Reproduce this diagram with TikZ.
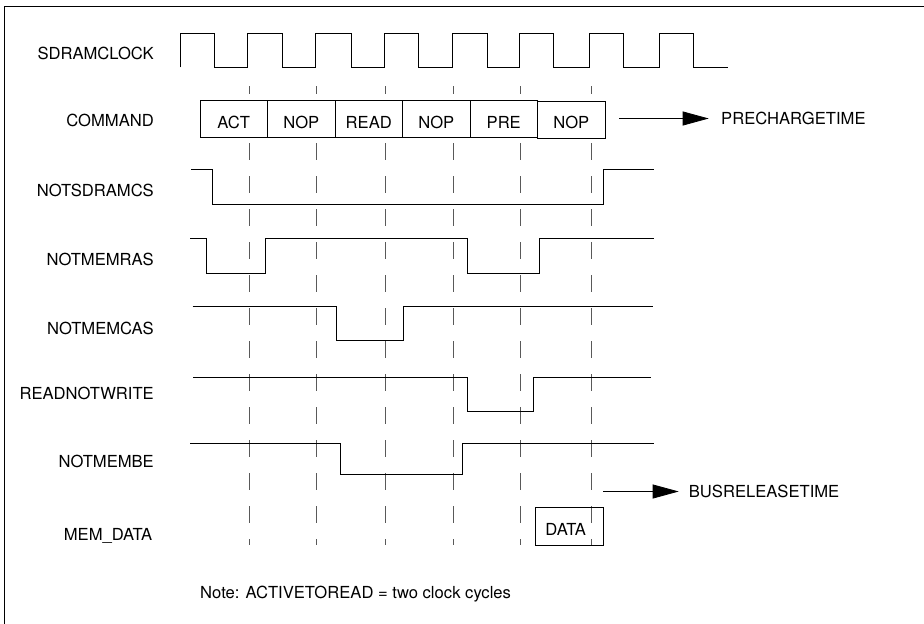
\documentclass[tikz,border=0pt]{standalone}
\usepackage{fontspec}
\setmainfont{TeX Gyre Heros}
\usepackage{tikz}
\usetikzlibrary{positioning, arrows.meta}

\begin{document}
\begin{tikzpicture}[
    x=1pt, y=-1pt,
    font=\fontsize{16.6}{20}\selectfont,
    lbl/.style={anchor=east, inner sep=0pt, text height=11.9pt, text depth=0pt},
    cmdbox/.style={rectangle, draw, line width=0.8pt, minimum height=37pt, minimum width=67.5pt, inner sep=0pt, text height=18pt, text depth=0pt, fill=white},
    sig/.style={line width=0.9pt},
    guide/.style={black!65, line width=0.9pt, dash pattern=on 17pt off 16pt, dash phase=9pt},
    arrow/.style={-{Triangle[length=26pt, width=14pt]}, line width=0.8pt}
]
\useasboundingbox (0,0) rectangle (924,624);

% frame
\draw[line width=1pt] (4.3,624) -- (4.3,6) -- (924,6);

% signal names
\node[lbl] (lclk) at (154,53.8) {SDRAMCLOCK};
\node[lbl] (lcmd) at (154,121) {COMMAND};
\node[lbl] (lcs) at (154,191) {NOTSDRAMCS};
\node[lbl] (lras) at (154,260) {NOTMEMRAS};
\node[lbl] (lcas) at (154,328.7) {NOTMEMCAS};
\node[lbl] (lrnw) at (154,394) {READNOTWRITE};
\node[lbl] (lbe) at (154,461.3) {NOTMEMBE};
\node[lbl] (ldata) at (152.5,534.7) {MEM\_DATA};

% clock
\draw[sig] (180,67.3) |- (214.3,33.3) |- (247.7,67.3) |- (282.3,33.3) |- (315.7,67.3)
    |- (351,33.3) |- (384.7,67.3) |- (418.3,33.3) |- (452.7,67.3) |- (487,33.3)
    |- (519.3,67.3) |- (553.3,33.3) |- (589.7,67.3) |- (623.7,33.3) |- (659.3,67.3)
    |- (693.3,33.3) |- (727.7,67.3);

% cycle marks
\draw[guide] (249.3,86) -- (249.3,545);
\draw[guide] (316,86) -- (316,545);
\draw[guide] (385,86) -- (385,545);
\draw[guide] (453.3,86) -- (453.3,545);
\draw[guide] (520.7,86) -- (520.7,545);
\draw[guide] (591.7,86) -- (591.7,545);

% commands
\node[cmdbox] (act) at (233.75,119.2) {ACT};
\node[cmdbox] (nopa) at (301.25,119.2) {NOP};
\node[cmdbox] (read) at (368.75,119.2) {READ};
\node[cmdbox] (nopb) at (436.25,119.2) {NOP};
\node[cmdbox] (pre) at (503.75,119.2) {PRE};
\node[cmdbox] (nopc) at (571.25,119.5) {NOP};

\node[lbl, anchor=west, inner xsep=12.3pt] (pct) at (708.7,118.5) {PRECHARGETIME};
\coordinate (pcs) at (619.3,118.5);
\draw[arrow] (pcs) -- (pct.west);

% control lines
\draw[sig] (191,169.3) -| (212,204) -| (603,169.3) -- (654,169.3);
\draw[sig] (190,238) -| (206.7,273) -| (265,238) -| (467,273) -| (539.3,238) -- (654,238);
\draw[sig] (192.7,306) -| (336.7,340.7) -| (403.3,306) -- (652.7,306);
\draw[sig] (193.3,377.3) -| (467.7,411) -| (533,377.3) -- (651.3,377.3);
\draw[sig] (190,443.3) -| (340,474) -| (462,443.3) -- (654,443.3);

% data
\node[cmdbox, fill=none, minimum width=68pt, minimum height=37.7pt] (data) at (569.7,526.2) {DATA\hspace*{8pt}};

\node[lbl, anchor=west, inner xsep=10pt] (brt) at (678.7,491.5) {BUSRELEASETIME};
\coordinate (brs) at (603,491.5);
\draw[arrow] (brs) -- (brt.west);

\node[lbl, anchor=west] (note) at (200,592.7) {Note: ACTIVETOREAD = two clock cycles};

\end{tikzpicture}
\end{document}
